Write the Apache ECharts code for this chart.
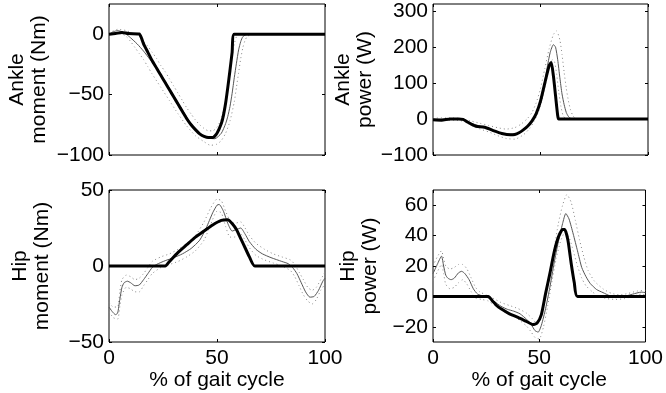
<!DOCTYPE html>
<html>
<head>
<meta charset="utf-8">
<script src="https://cdn.jsdelivr.net/npm/echarts@6/dist/echarts.min.js"></script>
<style>
  html, body { margin: 0; padding: 0; background: #fff; }
  #chart { width: 666px; height: 393px; }
</style>
</head>
<body>
<div id="chart"></div>
<script>
// x = % of gait cycle, each series is [x, y] pairs

// ankle moment (Nm)
const ankleMomentModel = [[0,0],[3,0.5],[6,1.5],[9,0.5],[14,0.2],[15,-3],[16,-8],[18,-15],[20,-22],[22,-28],[24,-34],[26,-40],[28,-46],[30,-52],[32,-58],[34,-64],[36,-70],[38,-75],[40,-79],[42,-82.5],[44,-84.5],[46,-85.5],[48,-85.5],[50,-82],[52,-74],[53,-67],[54,-57],[55,-44],[56,-30],[57,-15],[58,0],[100,0]];
const ankleMomentMean = [[0,0],[2,2],[4,3],[6,2],[8,0],[10,-3],[13,-8],[16,-14],[19,-21],[22,-28],[26,-39],[30,-51],[34,-63],[38,-74],[42,-82],[46,-86],[49,-86.5],[52,-82],[54,-74],[55,-68],[56,-60],[57,-49],[58,-36],[59,-24],[60,-13],[61,-6],[62,-2],[64,0],[100,0]];
const ankleMomentUpper = [[0,1],[4,4],[8,3],[12,0],[14,-2],[16,-6],[18,-10],[20,-15],[22,-20],[24,-26],[26,-31],[28,-37],[30,-43],[32,-49],[34,-55],[36,-61],[38,-66],[40,-71],[42,-75],[44,-78],[46,-80],[48,-80],[50,-77],[52,-70],[54,-55],[55,-43],[56,-30],[57,-18],[58,-8],[59,-2],[60,0],[100,0]];
const ankleMomentLower = [[0,-1],[4,2],[8,-2],[10,-6],[12,-11],[14,-16],[16,-21],[18,-27],[20,-33],[24,-44],[28,-55],[32,-66],[36,-76],[40,-84],[44,-89],[47,-92],[50,-91],[52,-88],[54,-82],[56,-72],[58,-56],[59,-44],[60,-32],[61,-20],[62,-11],[63,-5],[64,-2],[66,0],[100,0]];

// ankle power (W)
const anklePowerModel = [[0,-2],[4,-3],[8,0],[12,0],[14,-1],[16,-8],[18,-15],[20,-20],[24,-23],[28,-32],[32,-40],[36,-44],[38,-43],[40,-38],[42,-30],[44,-20],[46,-6],[48,15],[50,50],[52,100],[54,148],[55,157],[56,120],[57,65],[58,10],[58.5,0],[100,0]];
const anklePowerMean = [[0,0],[10,0],[14,-3],[18,-12],[22,-20],[26,-26],[30,-36],[34,-42],[38,-42],[42,-30],[45,-12],[47,5],[49,30],[51,75],[53,140],[54.5,185],[56,207],[57,200],[58,165],[59,115],[60,70],[61,40],[62,18],[63,7],[64,2],[66,0],[100,0]];
const anklePowerUpper = [[0,3],[10,3],[14,0],[18,-6],[22,-12],[26,-18],[30,-24],[34,-28],[38,-24],[41,-14],[44,2],[46,18],[48,45],[50,85],[52,140],[54,195],[56,235],[57.5,245],[59,220],[60,180],[61,130],[62,85],[63,50],[64,25],[65,10],[66,3],[68,0],[100,0]];
const anklePowerLower = [[0,-3],[10,-3],[14,-6],[18,-18],[22,-28],[26,-36],[30,-46],[34,-54],[38,-56],[42,-44],[45,-26],[47,-6],[49,20],[51,60],[53,115],[54.5,150],[55.5,165],[56.5,160],[57.5,125],[58.5,75],[59.5,35],[60.5,10],[62,0],[100,0]];

// hip moment (Nm)
const hipMomentModel = [[0,0],[26,0],[28,3],[32,9],[36,14],[40,19],[44,23],[48,27],[52,30],[55,30.5],[57,28],[59,24],[61,18],[63,12],[65,6],[67.5,0],[100,0]];
const hipMomentMean = [[0,-27],[1.5,-30],[3,-32],[4,-31],[5,-22],[6,-14],[7,-11],[8.5,-10],[10,-11],[12,-13],[14,-12.5],[16,-9],[18,-5],[20,-1],[22,1],[26,3.5],[30,5.5],[34,8],[38,11.5],[42,17],[45,25],[48,35],[50,40],[51,40.5],[53,36],[55,28],[57,23],[59,24],[61,25],[63,21],[65,16],[68,11],[71,8],[75,5.5],[80,3],[83,1.5],[85,-1],[87,-5],[89,-11],[91,-17],[93,-20.5],[95,-20],[97,-16],[99,-10],[100,-8]];
const hipMomentUpper = [[0,-24],[2,-27],[4,-27],[5,-17],[6,-9],[8,-6],[10,-7],[12,-9],[14,-8],[16,-5],[18,-1],[20,3],[24,6],[28,8],[32,11],[36,15],[40,20],[44,29],[47,38],[50,44],[52,43],[54,36],[56,30],[58,28],[61,29],[63,25],[65,20],[68,15],[72,11],[76,8],[80,6],[84,4],[86,1],[88,-4],[90,-9],[92,-14],[94,-16],[96,-14],[98,-9],[100,-4]];
const hipMomentLower = [[0,-30],[2,-34],[4,-35],[5,-27],[6,-19],[8,-14],[10,-15],[12,-17],[14,-17],[16,-13],[18,-9],[20,-5],[24,-1],[28,1],[32,3],[36,6],[40,10],[44,17],[47,27],[50,36],[52,35],[54,26],[56,19],[58,19],[61,21],[63,17],[65,12],[68,7],[72,4],[76,2],[80,0],[84,-3],[86,-7],[88,-13],[90,-19],[92,-23],[94,-25],[96,-22],[98,-16],[100,-12]];

// hip power (W)
const hipPowerModel = [[0,0],[26,0],[28,-3],[30,-6],[33,-9],[36,-11.5],[40,-13.8],[44,-16.5],[47,-18.5],[49,-17.5],[51,-12],[53,2],[55,15],[57,29],[59,39],[61,44],[62,44],[63.5,37],[65,22],[66.5,9],[68,0],[100,0]];
const hipPowerMean = [[0,15],[2,21],[4,26.5],[5,20],[6,14],[7,12],[8.5,11],[10,12],[12,15.5],[13.5,16.5],[15,15],[17,11],[19,5],[21,1.5],[24,0],[26,-1],[29,-3.5],[32,-6.5],[35,-8.5],[38,-9.7],[41,-11.5],[44,-15],[46,-18],[48,-22.5],[49.5,-23.5],[51,-19],[53,-8],[55,6],[57,22],[59,36],[61,48],[62.5,54.5],[64,51],[66,41],[68,30],[70,19],[72,13],[74,8.5],[77,4.5],[80,2.5],[83,0.5],[86,-0.8],[90,0],[94,1.5],[98,2.8],[100,2.5]];
const hipPowerUpper = [[0,20],[2,26],[4,30],[5,25],[6,20],[8,18],[10,19],[12,21],[14,21],[16,18],[18,12],[20,6],[22,3],[25,1],[28,-1],[32,-4],[36,-6],[40,-8],[44,-11],[47,-15],[49,-18],[51,-13],[53,-1],[55,13],[57,31],[59,48],[61,60],[63,67],[65,62],[67,50],[69,37],[71,26],[73,17],[76,10],[80,5],[84,2],[88,1],[92,2],[96,3.5],[100,4]];
const hipPowerLower = [[0,10],[2,16],[4,21],[5,15],[6,8],[8,5],[10,6],[12,9],[14,11],[16,8],[18,3],[20,-1],[23,-2],[26,-3],[29,-6],[32,-9],[35,-11],[38,-13],[41,-16],[44,-19.5],[46,-23],[48,-27],[50,-28],[52,-20],[54,-6],[56,10],[58,25],[60,36],[62,42],[64,39],[66,30],[68,20],[70,12],[72,7],[75,3],[78,0],[82,-1.5],[86,-2],[90,-1.5],[94,0],[98,1.5],[100,1]];

const xTicks = [0, 50, 100];
const ankleMomentTicks = [-100, -50, 0];
const anklePowerTicks = [-100, 0, 100, 200, 300];
const hipMomentTicks = [-50, 0, 50];
const hipPowerTicks = [-20, 0, 20, 40, 60];

const FONT = 'Liberation Sans, Arial, Helvetica, sans-serif';
const FS = 21;

const panels = [
  { grid: { left: 109, top: 4, width: 216, height: 151 }, ymin: -100, ymax: 25, ticks: ankleMomentTicks,
    name: 'Ankle\nmoment (Nm)', gap: 59, bottom: false,
    lines: [ankleMomentModel, ankleMomentMean, ankleMomentUpper, ankleMomentLower] },
  { grid: { left: 433, top: 4, width: 215, height: 151 }, ymin: -100, ymax: 320, ticks: anklePowerTicks,
    name: 'Ankle\npower (W)', gap: 57, bottom: false,
    lines: [anklePowerModel, anklePowerMean, anklePowerUpper, anklePowerLower] },
  { grid: { left: 109, top: 190, width: 216, height: 152 }, ymin: -50, ymax: 50, ticks: hipMomentTicks,
    name: 'Hip\nmoment (Nm)', gap: 56, bottom: true,
    lines: [hipMomentModel, hipMomentMean, hipMomentUpper, hipMomentLower] },
  { grid: { left: 433, top: 190, width: 215, height: 152 }, ymin: -30, ymax: 70, ticks: hipPowerTicks,
    name: 'Hip\npower (W)', gap: 52, bottom: true,
    lines: [hipPowerModel, hipPowerMean, hipPowerUpper, hipPowerLower] }
];

const minus = v => String(v).replace('-', '\u2212');
const tick = vals => ({ show: true, inside: true, length: 3, customValues: vals, lineStyle: { color: '#000', width: 1 } });
const noLine = { show: false, onZero: false };

const grid = [], xAxis = [], yAxis = [], series = [];
panels.forEach((p, i) => {
  grid.push(Object.assign({ show: true, borderColor: '#000', borderWidth: 1, backgroundColor: '#fff' }, p.grid));
  // bottom + top x axes (top one only for the inner ticks)
  xAxis.push({
    type: 'value', gridIndex: i, min: 0, max: 100, position: 'bottom',
    axisLine: noLine, splitLine: { show: false }, axisTick: tick(xTicks),
    axisLabel: { show: p.bottom, customValues: xTicks, margin: 6, color: '#000', fontSize: FS, fontFamily: FONT },
    name: p.bottom ? '% of gait cycle' : '', nameLocation: 'middle', nameGap: 25,
    nameTextStyle: { color: '#000', fontSize: FS, fontFamily: FONT }
  });
  xAxis.push({
    type: 'value', gridIndex: i, min: 0, max: 100, position: 'top',
    axisLine: noLine, splitLine: { show: false }, axisTick: tick(xTicks), axisLabel: { show: false }
  });
  yAxis.push({
    type: 'value', gridIndex: i, min: p.ymin, max: p.ymax, position: 'left',
    axisLine: noLine, splitLine: { show: false }, axisTick: tick(p.ticks),
    axisLabel: { customValues: p.ticks, margin: 5, color: '#000', fontSize: FS, fontFamily: FONT, formatter: minus },
    name: p.name, nameLocation: 'middle', nameRotate: 90, nameGap: p.gap,
    nameTextStyle: { color: '#000', fontSize: FS, lineHeight: 22, fontFamily: FONT, align: 'center' }
  });
  yAxis.push({
    type: 'value', gridIndex: i, min: p.ymin, max: p.ymax, position: 'right',
    axisLine: noLine, splitLine: { show: false }, axisTick: tick(p.ticks), axisLabel: { show: false }
  });

  const [model, mean, upper, lower] = p.lines;
  const base = { type: 'line', xAxisIndex: i * 2, yAxisIndex: i * 2, showSymbol: false, silent: true, smooth: 0.2, animation: false };
  series.push(Object.assign({}, base, { data: upper, z: 1, lineStyle: { color: '#8a8a8a', width: 1, type: [1, 3] } }));
  series.push(Object.assign({}, base, { data: lower, z: 1, lineStyle: { color: '#8a8a8a', width: 1, type: [1, 3] } }));
  series.push(Object.assign({}, base, { data: mean, z: 2, lineStyle: { color: '#555', width: 1 } }));
  series.push(Object.assign({}, base, { data: model, z: 3, lineStyle: { color: '#000', width: 3 } }));
});

const chart = echarts.init(document.getElementById('chart'));
chart.setOption({ backgroundColor: '#fff', animation: false, grid, xAxis, yAxis, series });
</script>
</body>
</html>
